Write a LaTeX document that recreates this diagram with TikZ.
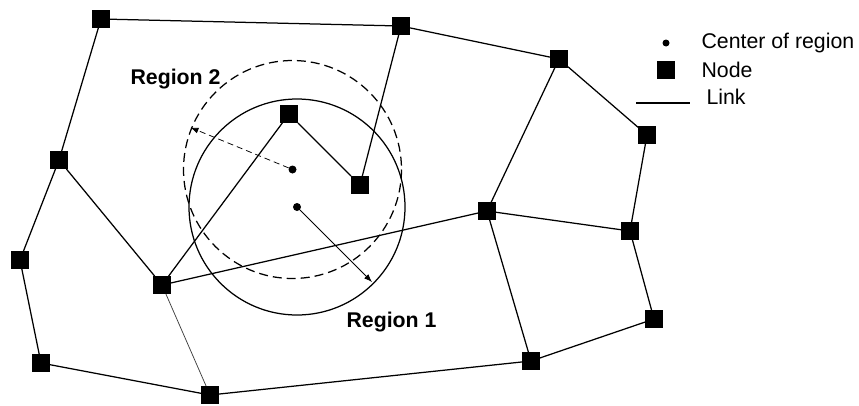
\documentclass[tikz,border=0pt]{standalone}
\usepackage{fontspec}
\setmainfont{Liberation Sans}
\usetikzlibrary{arrows.meta}
\begin{document}
\begin{tikzpicture}[x=1pt,y=-1pt,
  nd/.style={draw=none,fill=black,minimum size=17.5pt,inner sep=0pt},
  ctr/.style={circle,fill=black,minimum size=8pt,inner sep=0pt},
  lnk/.style={line width=1.25pt},
  thinlnk/.style={line width=0.75pt,black!75},
  rgn/.style={font=\fontsize{21.3}{25}\selectfont\bfseries},
  leg/.style={font=\fontsize{21.3}{25}\selectfont,anchor=west},
  arr/.style={line width=0.75pt,-{Latex[length=8pt,width=6pt]}}]
\useasboundingbox (0,0) rectangle (859,405);
% circles
\coordinate (c2) at (292.5,169.5);
\coordinate (c1) at (297,207);
\draw[line width=1.25pt,dash pattern=on 9pt off 5pt] (c2) circle[radius=109];
\draw[line width=1.25pt] (c1) circle[radius=108];
% nodes
\node[nd] (A) at (101,19) {};
\node[nd] (B) at (401,26) {};
\node[nd] (C) at (559,59) {};
\node[nd] (D) at (647,135) {};
\node[nd] (E) at (59,160) {};
\node[nd] (F) at (289,114) {};
\node[nd] (G) at (360,185) {};
\node[nd] (H) at (487,211) {};
\node[nd] (I) at (630,231) {};
\node[nd] (J) at (20,260) {};
\node[nd] (K) at (162,285) {};
\node[nd] (L) at (654,319) {};
\node[nd] (M) at (41,363) {};
\node[nd] (N) at (531,361) {};
\node[nd] (O) at (210,395) {};
% links
\draw[lnk] (A) -- (B);
\draw[lnk] (B) -- (C);
\draw[lnk] (C) -- (D);
\draw[lnk] (D) -- (I);
\draw[lnk] (I) -- (L);
\draw[lnk] (L) -- (N);
\draw[lnk] (N) -- (O);
\draw[lnk] (O) -- (M);
\draw[lnk] (M) -- (J);
\draw[lnk] (J) -- (E);
\draw[lnk] (E) -- (A);
\draw[lnk] (E) -- (K);
\draw[thinlnk] (K) -- (O);
\draw[lnk] (K) -- (F);
\draw[lnk] (F) -- (G);
\draw[lnk] (G) -- (B);
\draw[lnk] (K) -- (H);
\draw[lnk] (H) -- (C);
\draw[lnk] (H) -- (I);
\draw[lnk] (H) -- (N);
% centers and radius arrows
\node[ctr] (d2) at (c2) {};
\node[ctr] (d1) at (c1) {};
\coordinate (t2) at (190.5,127.5);
\coordinate (t1) at (372,282);
\draw[arr,dash pattern=on 6pt off 4pt] (d2) -- (t2);
\draw[arr] (d1) -- (t1);
% labels
\node[rgn] (r2) at (175.5,79) {Region 2};
\node[rgn] (r1) at (391.5,322) {Region 1};
% legend
\node[circle,fill=black,minimum size=7pt,inner sep=0pt] (ld) at (666,43) {};
\node[leg] (lt1) at (698,43) {Center of region};
\node[nd,minimum size=18pt] (ln) at (666,70) {};
\node[leg] (lt2) at (698,70) {Node};
\coordinate (la) at (636,103);
\coordinate (lb) at (690,103);
\draw[lnk] (la) -- (lb);
\node[leg] (lt3) at (703,97) {Link};
\end{tikzpicture}
\end{document}
